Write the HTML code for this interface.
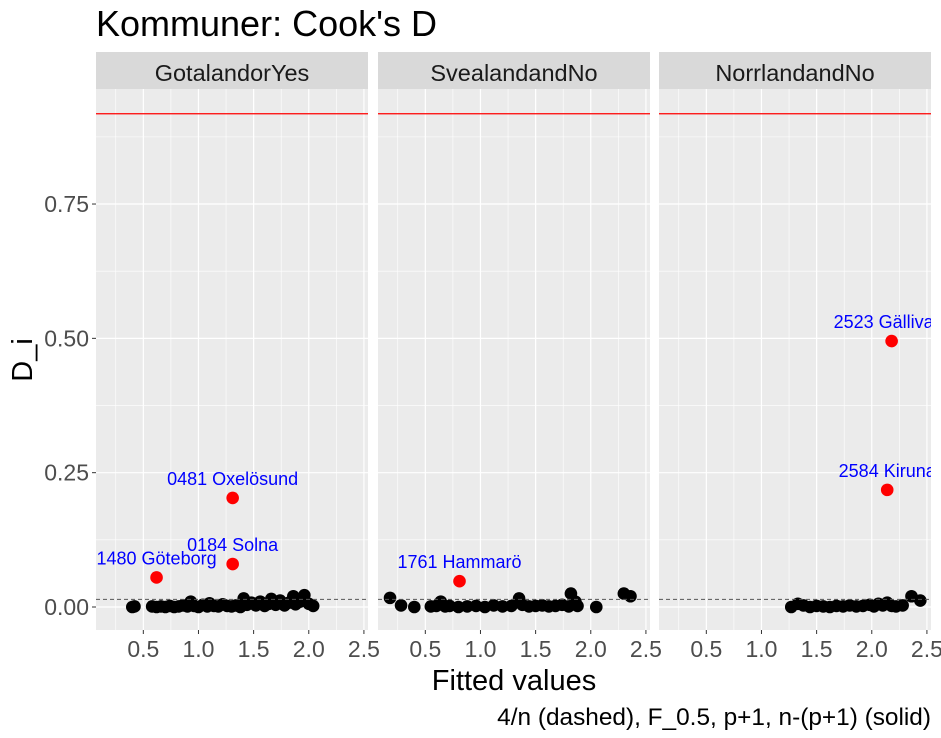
<!DOCTYPE html>
<html><head><meta charset="utf-8"><style>
html,body{margin:0;padding:0;background:#fff;}
svg{display:block;font-family:"Liberation Sans",sans-serif;}
</style></head><body>
<svg id="chart" width="941" height="738" viewBox="0 0 941 738">
<text x="96" y="36" font-size="36" fill="#000">Kommuner: Cook's D</text>
<text x="514" y="690" font-size="29" text-anchor="middle" fill="#000">Fitted values</text>
<text transform="translate(32,360) rotate(-90)" font-size="29" text-anchor="middle" fill="#000">D_i</text>
<text x="931" y="725" font-size="24.4" text-anchor="end" fill="#000">4/n (dashed), F_0.5, p+1, n-(p+1) (solid)</text>
<g id="panels"></g>
</svg>
<script>
const panelNames = ["GotalandorYes","SvealandandNo","NorrlandandNo"];
const xTicks = [0.5,1.0,1.5,2.0,2.5];
const xTickLabels = ["0.5","1.0","1.5","2.0","2.5"];
const yTicks = [0,0.25,0.5,0.75];
const yTickLabels = ["0.00","0.25","0.50","0.75"];
const solidLine = 0.918;
const dashedLine = 0.0143;
const p1X = [0.40,0.42,0.58,0.62,0.66,0.70,0.74,0.78,0.82,0.86,0.90,0.93,0.96,1.00,1.04,1.08,1.10,1.14,1.18,1.22,1.26,1.30,1.34,1.38,1.41,1.44,1.48,1.52,1.56,1.60,1.64,1.66,1.70,1.74,1.78,1.82,1.86,1.88,1.92,1.96,2.00,2.04];
const p1Y = [0.000,0.001,0.001,0.000,0.001,0.000,0.002,0.000,0.001,0.003,0.001,0.010,0.002,0.000,0.004,0.001,0.007,0.002,0.001,0.005,0.002,0.001,0.003,0.000,0.016,0.004,0.008,0.003,0.010,0.002,0.006,0.015,0.004,0.012,0.003,0.008,0.020,0.005,0.010,0.022,0.006,0.002];
const p2X = [0.18,0.28,0.40,0.55,0.60,0.64,0.68,0.72,0.80,0.88,0.96,1.04,1.12,1.20,1.28,1.35,1.38,1.44,1.50,1.56,1.62,1.68,1.74,1.80,1.82,1.86,1.88,2.05,2.30,2.36];
const p2Y = [0.017,0.003,0.000,0.001,0.002,0.010,0.001,0.002,0.000,0.001,0.002,0.000,0.003,0.001,0.002,0.016,0.004,0.001,0.002,0.003,0.001,0.002,0.004,0.001,0.025,0.010,0.002,0.000,0.025,0.020];
const p3X = [1.27,1.33,1.38,1.44,1.50,1.56,1.62,1.68,1.74,1.80,1.86,1.92,1.98,2.02,2.06,2.10,2.14,2.18,2.22,2.28,2.36,2.44];
const p3Y = [0.000,0.006,0.003,0.000,0.002,0.001,0.000,0.002,0.001,0.003,0.001,0.002,0.004,0.001,0.006,0.003,0.008,0.002,0.001,0.003,0.020,0.012];
const outX = [[0.62,1.31,1.31],[0.81],[2.18,2.14]];
const outY = [[0.055,0.080,0.203],[0.048],[0.495,0.218]];
const outLabels = [["1480 Göteborg","0184 Solna","0481 Oxelösund"],["1761 Hammarö"],["2523 Gällivare","2584 Kiruna"]];
const ptsX = [p1X,p2X,p3X], ptsY = [p1Y,p2Y,p3Y];

const NS="http://www.w3.org/2000/svg";
const panelLeft=[96,378,659], panelW=272, pTop=89, pBottom=630;
const xmin=0.071, xmax=2.537;
function sx(i,v){return panelLeft[i]+(v-xmin)/(xmax-xmin)*panelW;}
function sy(v){return 607-(v*537.3);}
function mk(tag,attrs,parent){const e=document.createElementNS(NS,tag);for(const k in attrs)e.setAttribute(k,attrs[k]);parent.appendChild(e);return e;}
const root=document.getElementById('panels');
const defs=mk('defs',{},root);
for(let i=0;i<3;i++){
  const cp=mk('clipPath',{id:'clip'+i},defs);
  mk('rect',{x:panelLeft[i],y:pTop,width:panelW,height:pBottom-pTop},cp);
  const g=mk('g',{},root);
  
  
  const strip=mk('rect',{x:panelLeft[i],y:52,width:panelW,height:37,fill:'#d9d9d9'},g);
  
  
  const st=mk('text',{x:panelLeft[i]+panelW/2,y:81,'font-size':23.5,'text-anchor':'middle',fill:'#1a1a1a'},g);
  st.textContent=panelNames[i];
  
  
  const bg=mk('rect',{x:panelLeft[i],y:pTop,width:panelW,height:pBottom-pTop,fill:'#ebebeb'},g);
  
  
  const inner=mk('g',{'clip-path':'url(#clip'+i+')'},g);
  for(let t=0.25;t<2.6;t+=0.5){mk('line',{x1:sx(i,t),x2:sx(i,t),y1:pTop,y2:pBottom,stroke:'#fff','stroke-width':0.6},inner);}
  for(let t=0.125;t<1;t+=0.25){mk('line',{x1:panelLeft[i],x2:panelLeft[i]+panelW,y1:sy(t),y2:sy(t),stroke:'#fff','stroke-width':0.6},inner);}
  xTicks.forEach(t=>{mk('line',{x1:sx(i,t),x2:sx(i,t),y1:pTop,y2:pBottom,stroke:'#fff','stroke-width':1.2},inner);});
  yTicks.forEach(t=>{mk('line',{x1:panelLeft[i],x2:panelLeft[i]+panelW,y1:sy(t),y2:sy(t),stroke:'#fff','stroke-width':1.2},inner);});
  const sl=mk('line',{x1:panelLeft[i],x2:panelLeft[i]+panelW,y1:sy(solidLine),y2:sy(solidLine),stroke:'#ff0000','stroke-width':1.2},inner);
  
  
  for(let k=0;k<ptsX[i].length;k++){
    const c=mk('circle',{cx:sx(i,ptsX[i][k]),cy:sy(ptsY[i][k]),r:6.3,fill:'#000'},inner);
    
    
  }
  const dl=mk('line',{x1:panelLeft[i],x2:panelLeft[i]+panelW,y1:sy(dashedLine),y2:sy(dashedLine),stroke:'#555','stroke-width':1,'stroke-dasharray':'4,3'},inner);
  
  
  for(let k=0;k<outX[i].length;k++){
    const c=mk('circle',{cx:sx(i,outX[i][k]),cy:sy(outY[i][k]),r:6.3,fill:'#ff0000'},inner);
    
    
    const tx=mk('text',{x:sx(i,outX[i][k]),y:sy(outY[i][k])-13,'font-size':18,'text-anchor':'middle',fill:'#0000ff'},inner);
    tx.textContent=outLabels[i][k];
    
    
  }
  xTicks.forEach((t,j)=>{
    mk('line',{x1:sx(i,t),x2:sx(i,t),y1:pBottom,y2:pBottom+4,stroke:'#333','stroke-width':1},g);
    const lb=mk('text',{x:sx(i,t),y:pBottom+27,'font-size':23,'text-anchor':'middle',fill:'#4d4d4d'},g);
    lb.textContent=xTickLabels[j];
    
    
  });
}
yTicks.forEach((t,j)=>{
  mk('line',{x1:92,x2:96,y1:sy(t),y2:sy(t),stroke:'#333','stroke-width':1},root);
  const lb=mk('text',{x:89,y:sy(t)+8,'font-size':23,'text-anchor':'end',fill:'#4d4d4d'},root);
  lb.textContent=yTickLabels[j];
  
  
});
</script>
</body></html>
